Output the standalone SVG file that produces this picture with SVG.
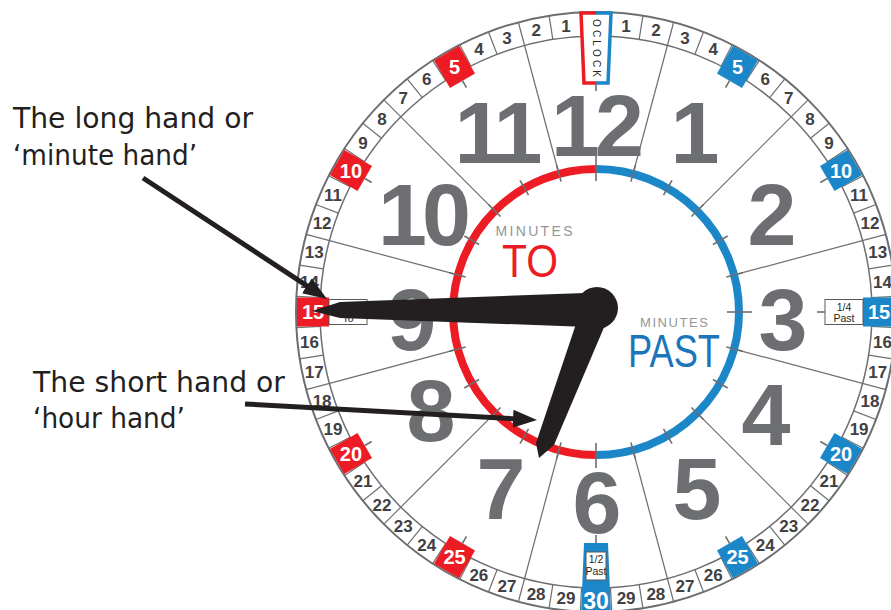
<svg xmlns="http://www.w3.org/2000/svg" xmlns:xlink="http://www.w3.org/1999/xlink" width="891" height="610" viewBox="0 0 891 610">
<style>
.ln{stroke:#6d6e71;stroke-width:1.2;fill:none}
.tk{stroke:#6d6e71;stroke-width:1.6}
.mn{font-family:"Liberation Sans",Arial,sans-serif;font-weight:bold;font-size:17px;fill:#414042;text-anchor:middle}
.bn{font-family:"Liberation Sans",Arial,sans-serif;font-weight:bold;font-size:20px;fill:#fff;text-anchor:middle}
.sm{font-family:"Liberation Sans",Arial,sans-serif;font-size:10.5px;fill:#231f20;text-anchor:middle}
.hr{font-family:"Liberation Sans",Arial,sans-serif;font-weight:bold;font-size:88px;fill:#6d6e71;text-anchor:middle}
.hr2{letter-spacing:-5px}
.lab{font-family:"DejaVu Sans","Liberation Sans",sans-serif;font-size:29px;fill:#231f20}
.hand{fill:#231f20}
.arrow{stroke:#231f20;stroke-width:5;fill:none;marker-end:url(#ah)}
</style>
<defs>
<marker id="ah" markerUnits="userSpaceOnUse" markerWidth="24" markerHeight="20" refX="16" refY="10" orient="auto">
<path d="M0,1 L24,10 L0,19 Z" fill="#231f20"/>
</marker>
<line id="cl" class="ln" x1="596" y1="12" x2="596" y2="36"/>
<line id="sl" class="ln" x1="596" y1="12" x2="596" y2="165"/>
<line id="tks" class="tk" x1="596" y1="160" x2="596" y2="177"/>
<line id="tkl" class="tk" x1="596" y1="156" x2="596" y2="181"/>
<g id="boxB"><rect x="581.5" y="13" width="29" height="32" fill="#1b87c9"/><line class="tk" x1="596" y1="45" x2="596" y2="53"/></g>
<g id="boxR"><rect x="581.5" y="13" width="29" height="32" fill="#ed1c24"/><line class="tk" x1="596" y1="45" x2="596" y2="53"/></g>
</defs>
<rect width="891" height="610" fill="#fff"/>

<g id="clock-face">
<circle cx="596" cy="312" r="300" fill="#fff" stroke="#6d6e71" stroke-width="2"/>
<circle cx="596" cy="312" r="276" fill="none" stroke="#6d6e71" stroke-width="1.5"/>
<g id="cell-lines">
<use href="#cl" transform="rotate(3 596 312)"/><use href="#cl" transform="rotate(9 596 312)"/><use href="#cl" transform="rotate(21 596 312)"/><use href="#cl" transform="rotate(27 596 312)"/><use href="#cl" transform="rotate(33 596 312)"/><use href="#cl" transform="rotate(39 596 312)"/><use href="#cl" transform="rotate(51 596 312)"/><use href="#cl" transform="rotate(57 596 312)"/><use href="#cl" transform="rotate(63 596 312)"/><use href="#cl" transform="rotate(69 596 312)"/><use href="#cl" transform="rotate(81 596 312)"/><use href="#cl" transform="rotate(87 596 312)"/><use href="#cl" transform="rotate(93 596 312)"/><use href="#cl" transform="rotate(99 596 312)"/><use href="#cl" transform="rotate(111 596 312)"/><use href="#cl" transform="rotate(117 596 312)"/><use href="#cl" transform="rotate(123 596 312)"/><use href="#cl" transform="rotate(129 596 312)"/><use href="#cl" transform="rotate(141 596 312)"/><use href="#cl" transform="rotate(147 596 312)"/><use href="#cl" transform="rotate(153 596 312)"/><use href="#cl" transform="rotate(159 596 312)"/><use href="#cl" transform="rotate(171 596 312)"/><use href="#cl" transform="rotate(177 596 312)"/><use href="#cl" transform="rotate(183 596 312)"/><use href="#cl" transform="rotate(189 596 312)"/><use href="#cl" transform="rotate(201 596 312)"/><use href="#cl" transform="rotate(207 596 312)"/><use href="#cl" transform="rotate(213 596 312)"/><use href="#cl" transform="rotate(219 596 312)"/><use href="#cl" transform="rotate(231 596 312)"/><use href="#cl" transform="rotate(237 596 312)"/><use href="#cl" transform="rotate(243 596 312)"/><use href="#cl" transform="rotate(249 596 312)"/><use href="#cl" transform="rotate(261 596 312)"/><use href="#cl" transform="rotate(267 596 312)"/><use href="#cl" transform="rotate(273 596 312)"/><use href="#cl" transform="rotate(279 596 312)"/><use href="#cl" transform="rotate(291 596 312)"/><use href="#cl" transform="rotate(297 596 312)"/><use href="#cl" transform="rotate(303 596 312)"/><use href="#cl" transform="rotate(309 596 312)"/><use href="#cl" transform="rotate(321 596 312)"/><use href="#cl" transform="rotate(327 596 312)"/><use href="#cl" transform="rotate(333 596 312)"/><use href="#cl" transform="rotate(339 596 312)"/><use href="#cl" transform="rotate(351 596 312)"/><use href="#cl" transform="rotate(357 596 312)"/>
</g>
<g id="sector-lines">
<use href="#sl" transform="rotate(15 596 312)"/><use href="#sl" transform="rotate(45 596 312)"/><use href="#sl" transform="rotate(75 596 312)"/><use href="#sl" transform="rotate(105 596 312)"/><use href="#sl" transform="rotate(135 596 312)"/><use href="#sl" transform="rotate(165 596 312)"/><use href="#sl" transform="rotate(195 596 312)"/><use href="#sl" transform="rotate(225 596 312)"/><use href="#sl" transform="rotate(255 596 312)"/><use href="#sl" transform="rotate(285 596 312)"/><use href="#sl" transform="rotate(315 596 312)"/><use href="#sl" transform="rotate(345 596 312)"/>
</g>
<g id="minute-numbers">
<text class="mn" x="596" y="30" transform="rotate(6 596 312) rotate(-6 596 24)">1</text>
<text class="mn" x="596" y="30" transform="rotate(12 596 312) rotate(-12 596 24)">2</text>
<text class="mn" x="596" y="30" transform="rotate(18 596 312) rotate(-18 596 24)">3</text>
<text class="mn" x="596" y="30" transform="rotate(24 596 312) rotate(-24 596 24)">4</text>
<text class="mn" x="596" y="30" transform="rotate(36 596 312) rotate(-36 596 24)">6</text>
<text class="mn" x="596" y="30" transform="rotate(42 596 312) rotate(-42 596 24)">7</text>
<text class="mn" x="596" y="30" transform="rotate(48 596 312) rotate(-48 596 24)">8</text>
<text class="mn" x="596" y="30" transform="rotate(54 596 312) rotate(-54 596 24)">9</text>
<text class="mn" x="596" y="30" transform="rotate(66 596 312) rotate(-66 596 24)">11</text>
<text class="mn" x="596" y="30" transform="rotate(72 596 312) rotate(-72 596 24)">12</text>
<text class="mn" x="596" y="30" transform="rotate(78 596 312) rotate(-78 596 24)">13</text>
<text class="mn" x="596" y="30" transform="rotate(84 596 312) rotate(-84 596 24)">14</text>
<text class="mn" x="596" y="30" transform="rotate(96 596 312) rotate(-96 596 24)">16</text>
<text class="mn" x="596" y="30" transform="rotate(102 596 312) rotate(-102 596 24)">17</text>
<text class="mn" x="596" y="30" transform="rotate(108 596 312) rotate(-108 596 24)">18</text>
<text class="mn" x="596" y="30" transform="rotate(114 596 312) rotate(-114 596 24)">19</text>
<text class="mn" x="596" y="30" transform="rotate(126 596 312) rotate(-126 596 24)">21</text>
<text class="mn" x="596" y="30" transform="rotate(132 596 312) rotate(-132 596 24)">22</text>
<text class="mn" x="596" y="30" transform="rotate(138 596 312) rotate(-138 596 24)">23</text>
<text class="mn" x="596" y="30" transform="rotate(144 596 312) rotate(-144 596 24)">24</text>
<text class="mn" x="596" y="30" transform="rotate(156 596 312) rotate(-156 596 24)">26</text>
<text class="mn" x="596" y="30" transform="rotate(162 596 312) rotate(-162 596 24)">27</text>
<text class="mn" x="596" y="30" transform="rotate(168 596 312) rotate(-168 596 24)">28</text>
<text class="mn" x="596" y="30" transform="rotate(174 596 312) rotate(-174 596 24)">29</text>
<text class="mn" x="596" y="30" transform="rotate(-6 596 312) rotate(6 596 24)">1</text>
<text class="mn" x="596" y="30" transform="rotate(-12 596 312) rotate(12 596 24)">2</text>
<text class="mn" x="596" y="30" transform="rotate(-18 596 312) rotate(18 596 24)">3</text>
<text class="mn" x="596" y="30" transform="rotate(-24 596 312) rotate(24 596 24)">4</text>
<text class="mn" x="596" y="30" transform="rotate(-36 596 312) rotate(36 596 24)">6</text>
<text class="mn" x="596" y="30" transform="rotate(-42 596 312) rotate(42 596 24)">7</text>
<text class="mn" x="596" y="30" transform="rotate(-48 596 312) rotate(48 596 24)">8</text>
<text class="mn" x="596" y="30" transform="rotate(-54 596 312) rotate(54 596 24)">9</text>
<text class="mn" x="596" y="30" transform="rotate(-66 596 312) rotate(66 596 24)">11</text>
<text class="mn" x="596" y="30" transform="rotate(-72 596 312) rotate(72 596 24)">12</text>
<text class="mn" x="596" y="30" transform="rotate(-78 596 312) rotate(78 596 24)">13</text>
<text class="mn" x="596" y="30" transform="rotate(-84 596 312) rotate(84 596 24)">14</text>
<text class="mn" x="596" y="30" transform="rotate(-96 596 312) rotate(96 596 24)">16</text>
<text class="mn" x="596" y="30" transform="rotate(-102 596 312) rotate(102 596 24)">17</text>
<text class="mn" x="596" y="30" transform="rotate(-108 596 312) rotate(108 596 24)">18</text>
<text class="mn" x="596" y="30" transform="rotate(-114 596 312) rotate(114 596 24)">19</text>
<text class="mn" x="596" y="30" transform="rotate(-126 596 312) rotate(126 596 24)">21</text>
<text class="mn" x="596" y="30" transform="rotate(-132 596 312) rotate(132 596 24)">22</text>
<text class="mn" x="596" y="30" transform="rotate(-138 596 312) rotate(138 596 24)">23</text>
<text class="mn" x="596" y="30" transform="rotate(-144 596 312) rotate(144 596 24)">24</text>
<text class="mn" x="596" y="30" transform="rotate(-156 596 312) rotate(156 596 24)">26</text>
<text class="mn" x="596" y="30" transform="rotate(-162 596 312) rotate(162 596 24)">27</text>
<text class="mn" x="596" y="30" transform="rotate(-168 596 312) rotate(168 596 24)">28</text>
<text class="mn" x="596" y="30" transform="rotate(-174 596 312) rotate(174 596 24)">29</text>
</g>
</g>

<g id="box-past-5" transform="rotate(30 596 312)"><use href="#boxB"/><text class="bn" x="596" y="36" transform="rotate(-30 596 29)">5</text></g>
<g id="box-past-10" transform="rotate(60 596 312)"><use href="#boxB"/><text class="bn" x="596" y="36" transform="rotate(-60 596 29)">10</text></g>
<g id="box-past-15" transform="rotate(90 596 312)"><use href="#boxB"/><rect x="583.5" y="45" width="25" height="38" fill="#fff" stroke="#58595b" stroke-width="1"/><line class="tk" x1="596" y1="83" x2="596" y2="91"/><text class="bn" x="596" y="36" transform="rotate(-90 596 29)">15</text><text class="sm" x="596" y="63" transform="rotate(-90 596 64)">1/4</text><text class="sm" x="596" y="74" transform="rotate(-90 596 64)">Past</text></g>
<g id="box-past-20" transform="rotate(120 596 312)"><use href="#boxB"/><text class="bn" x="596" y="36" transform="rotate(-120 596 29)">20</text></g>
<g id="box-past-25" transform="rotate(150 596 312)"><use href="#boxB"/><text class="bn" x="596" y="36" transform="rotate(-150 596 29)">25</text></g>
<g id="box-to-5" transform="rotate(-30 596 312)"><use href="#boxR"/><text class="bn" x="596" y="36" transform="rotate(30 596 29)">5</text></g>
<g id="box-to-10" transform="rotate(-60 596 312)"><use href="#boxR"/><text class="bn" x="596" y="36" transform="rotate(60 596 29)">10</text></g>
<g id="box-to-15" transform="rotate(-90 596 312)"><use href="#boxR"/><rect x="583.5" y="45" width="25" height="38" fill="#fff" stroke="#58595b" stroke-width="1"/><line class="tk" x1="596" y1="83" x2="596" y2="91"/><text class="bn" x="596" y="36" transform="rotate(90 596 29)">15</text><text class="sm" x="596" y="63" transform="rotate(90 596 64)">1/4</text><text class="sm" x="596" y="74" transform="rotate(90 596 64)">To</text></g>
<g id="box-to-20" transform="rotate(-120 596 312)"><use href="#boxR"/><text class="bn" x="596" y="36" transform="rotate(120 596 29)">20</text></g>
<g id="box-to-25" transform="rotate(-150 596 312)"><use href="#boxR"/><text class="bn" x="596" y="36" transform="rotate(150 596 29)">25</text></g>

<g id="box-oclock">
<polygon points="581,13 611,13 608,83 584,83" fill="#fff"/>
<path d="M596,13 H581 L584,83 H596" fill="none" stroke="#ed1c24" stroke-width="3.5"/>
<path d="M596,13 H611 L608,83 H596" fill="none" stroke="#1b87c9" stroke-width="3.5"/>
<line class="tk" x1="596" y1="83" x2="596" y2="91"/>
<text x="596" y="51.5" transform="rotate(90 596 48)" text-anchor="middle" textLength="58" style="font-family:'Liberation Sans',Arial,sans-serif;font-size:10px;fill:#231f20">OCLOCK</text>
</g>

<g id="box-half-past">
<polygon points="584,543 608,543 611,615 581,615" fill="#1b87c9"/>
<line class="tk" x1="596" y1="535" x2="596" y2="543"/>
<rect x="586" y="552" width="20" height="28" fill="#fff" stroke="#58595b" stroke-width="1"/>
<text class="sm" x="596" y="563">1/2</text>
<text class="sm" x="596" y="575">Past</text>
<text x="596" y="609" text-anchor="middle" style="font-family:'Liberation Sans',Arial,sans-serif;font-weight:bold;font-size:23px;fill:#fff">30</text>
</g>

<g id="inner-ring">
<path d="M596,169 A143,143 0 0 0 596,455" fill="none" stroke="#ed1c24" stroke-width="8"/>
<path d="M596,169 A143,143 0 0 1 596,455" fill="none" stroke="#1b87c9" stroke-width="8"/>
<use href="#tkl"/><use href="#tks" transform="rotate(15 596 312)"/><use href="#tks" transform="rotate(30 596 312)"/><use href="#tks" transform="rotate(45 596 312)"/><use href="#tks" transform="rotate(60 596 312)"/><use href="#tks" transform="rotate(75 596 312)"/><use href="#tkl" transform="rotate(90 596 312)"/><use href="#tks" transform="rotate(105 596 312)"/><use href="#tks" transform="rotate(120 596 312)"/><use href="#tks" transform="rotate(135 596 312)"/><use href="#tks" transform="rotate(150 596 312)"/><use href="#tks" transform="rotate(165 596 312)"/><use href="#tkl" transform="rotate(180 596 312)"/><use href="#tks" transform="rotate(195 596 312)"/><use href="#tks" transform="rotate(210 596 312)"/><use href="#tks" transform="rotate(225 596 312)"/><use href="#tks" transform="rotate(240 596 312)"/><use href="#tks" transform="rotate(255 596 312)"/><use href="#tkl" transform="rotate(270 596 312)"/><use href="#tks" transform="rotate(285 596 312)"/><use href="#tks" transform="rotate(300 596 312)"/><use href="#tks" transform="rotate(315 596 312)"/><use href="#tks" transform="rotate(330 596 312)"/><use href="#tks" transform="rotate(345 596 312)"/>
</g>

<g id="hour-numerals">
<text class="hr hr2" x="595" y="156">12</text>
<text class="hr" x="695" y="163">1</text>
<text class="hr" x="772" y="245">2</text>
<text class="hr" x="783" y="350">3</text>
<text class="hr" x="766" y="445">4</text>
<text class="hr" x="697" y="519">5</text>
<text class="hr" x="597" y="533">6</text>
<text class="hr" x="501" y="519">7</text>
<text class="hr" x="431" y="441">8</text>
<text class="hr" x="412" y="350">9</text>
<text class="hr hr2" x="422" y="245">10</text>
<text class="hr hr2" x="496" y="163">11</text>
</g>

<g id="minutes-to">
<text x="534" y="236" text-anchor="middle" textLength="77" style="font-family:'Liberation Sans',Arial,sans-serif;font-size:14px;fill:#939598">MINUTES</text>
<text x="530" y="277" text-anchor="middle" textLength="56" lengthAdjust="spacingAndGlyphs" style="font-family:'Liberation Sans',Arial,sans-serif;font-size:46px;fill:#ed1c24">TO</text>
</g>
<g id="minutes-past">
<text x="674" y="327" text-anchor="middle" textLength="68" style="font-family:'Liberation Sans',Arial,sans-serif;font-size:13px;fill:#939598">MINUTES</text>
<text x="674" y="367" text-anchor="middle" textLength="92" lengthAdjust="spacingAndGlyphs" style="font-family:'Liberation Sans',Arial,sans-serif;font-size:46px;fill:#1b75bb">PAST</text>
</g>

<g id="label-minute-hand">
<text class="lab" x="13" y="128" textLength="240" lengthAdjust="spacingAndGlyphs">The long hand or</text>
<text class="lab" x="13" y="165" textLength="184" lengthAdjust="spacingAndGlyphs">‘minute hand’</text>
</g>
<g id="label-hour-hand">
<text class="lab" x="33" y="392" textLength="252" lengthAdjust="spacingAndGlyphs">The short hand or</text>
<text class="lab" x="33" y="428" textLength="152" lengthAdjust="spacingAndGlyphs">‘hour hand’</text>
</g>

<g id="connectors">
<line class="arrow" x1="143" y1="178" x2="320.3" y2="294.6"/>
<line class="arrow" x1="245" y1="404" x2="529" y2="419.6"/>
</g>

<g id="hands">
<polygon class="hand" points="312,311 340,302 585,293 588,327 340,318"/>
<polygon class="hand" points="580,312 608,318 554,445 539,458 536,443"/>
<circle class="hand" cx="597" cy="308" r="21"/>
</g>
</svg>
